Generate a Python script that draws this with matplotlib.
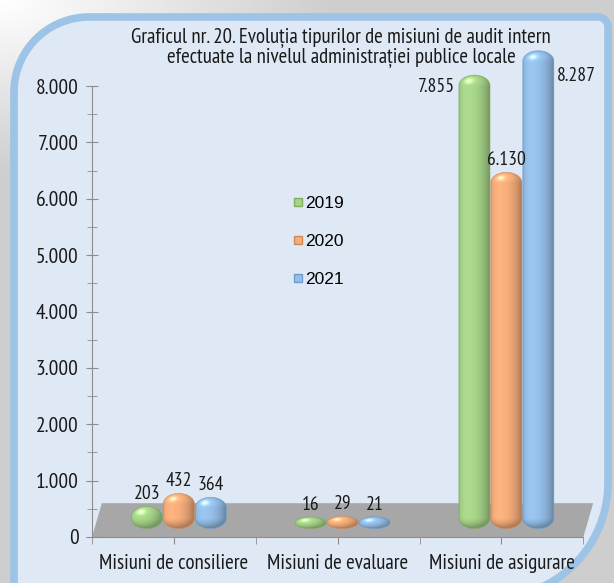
import numpy as np
import matplotlib
matplotlib.use('Agg')
import matplotlib.pyplot as plt
from matplotlib import font_manager as fm
from matplotlib.patches import Polygon, PathPatch
from matplotlib.path import Path
from matplotlib.lines import Line2D
from matplotlib.colors import to_rgb

# date
categories = ['Misiuni de consiliere', 'Misiuni de evaluare', 'Misiuni de asigurare']
years = ['2019', '2020', '2021']
v2019 = [203, 16, 7855]
v2020 = [432, 29, 6130]
v2021 = [364, 21, 8287]
y_ticks = [0, 1000, 2000, 3000, 4000, 5000, 6000, 7000, 8000]

series = [v2019, v2020, v2021]
colors = ['#a6d488', '#f5ad7a', '#95bfe8']
edge_colors = ['#7fae62', '#d08a58', '#6e9dcc']

fams = {f.name for f in fm.fontManager.ttflist}


def pick(*names):
    for n in names:
        if n in fams:
            return [n, 'DejaVu Sans']
    return ['DejaVu Sans']


NARROW = pick('Liberation Sans Narrow', 'Arial Narrow', 'PT Sans Narrow', 'Archivo Narrow',
              'Roboto Condensed', 'Asap Condensed')
REG = pick('Liberation Sans', 'Arimo', 'DejaVu Sans')


def fmt(v):
    return f'{v:,}'.replace(',', '.')


def pill_path(xc, w, b, h, c):
    t = np.linspace(0, np.pi, 40)
    tx = xc + w / 2 * np.cos(t)
    ty = b + h - c + c * np.sin(t)
    t2 = np.linspace(np.pi, 2 * np.pi, 40)
    bx = xc + w / 2 * np.cos(t2)
    by = b + c + c * np.sin(t2)
    xs = np.concatenate([tx, bx, tx[:1]])
    ys = np.concatenate([ty, by, ty[:1]])
    codes = [Path.MOVETO] + [Path.LINETO] * (len(xs) - 2) + [Path.CLOSEPOLY]
    return Path(np.column_stack([xs, ys]), codes)


def shade(color, h, c, nrows, ncols=48):
    u = np.linspace(-1, 1, ncols)
    v = np.linspace(0, h, nrows)
    U, V = np.meshgrid(u, v)
    ny = np.zeros_like(V)
    top = V > h - c
    ny[top] = (V[top] - (h - c)) / c
    bot = V < c
    ny[bot] = (V[bot] - c) / c
    nx = U
    nz = np.sqrt(np.clip(1 - nx ** 2 - ny ** 2, 0, 1))
    L = np.array([-0.4, 0.5, 0.8])
    L = L / np.linalg.norm(L)
    d = np.clip(nx * L[0] + ny * L[1] + nz * L[2], 0, 1)
    base = np.array(to_rgb(color))
    rgb = base[None, None, :] * (0.72 + 0.36 * d[..., None]) + 0.3 * d[..., None] ** 30
    return np.clip(rgb, 0, 1)


fig = plt.figure(figsize=(6.14, 5.83), dpi=100)

# fundal
bg = fig.add_axes([0, 0, 1, 1], zorder=-10)
bg.set_xlim(0, 614)
bg.set_ylim(583, 0)
bg.axis('off')
gx, gy = np.meshgrid(np.arange(614), np.arange(583))
g = 1 - 0.19 * np.clip(np.sqrt((gx / 330.0) ** 2 + (gy / 170.0) ** 2), 0, 1)
bg.imshow(np.dstack([g, g, g]), extent=(0, 614, 583, 0), aspect='auto')


def arc(cx, cy, r, a0, a1):
    a = np.radians(np.linspace(a0, a1, 30))
    return list(zip(cx + r * np.cos(a), cy + r * np.sin(a)))


x0, x1, y0, y1 = 14, 608, 17, 598
r_tl, r_tr, r_br = 75, 10, 115
pts = [(x0 + r_tl, y0), (x1 - r_tr, y0)]
pts += arc(x1 - r_tr, y0 + r_tr, r_tr, -90, 0)
pts += [(x1, y1 - r_br)]
pts += arc(x1 - r_br, y1 - r_br, r_br, 0, 90)
pts += [(x0, y1), (x0, y0 + r_tl)]
pts += arc(x0 + r_tl, y0 + r_tl, r_tl, 180, 270)
panel = Polygon(pts, closed=True, facecolor='#dfe9f5', edgecolor='#9dc3e6', lw=5.5)
bg.add_patch(panel)

# grafic
ax = fig.add_axes([92 / 614, 1 - 537 / 583, (603 - 92) / 614, (537 - 41) / 583])
ax.patch.set_alpha(0)

floor = Polygon([(-0.5, 0), (2.5, 0), (2.56, 600), (-0.44, 600)], closed=True,
                facecolor='#a7a7a7', edgecolor='none', zorder=1)
ax.add_patch(floor)

width = 0.19
offsets = [-0.165, 0.03, 0.225]
base = 150
label_style = {(2, 0): ('right', -12), (2, 2): ('left', -25)}

for j, vals in enumerate(series):
    for i, v in enumerate(vals):
        xc = i + offsets[j]
        h = v + 190
        c = min(185, h / 2)
        path = pill_path(xc, width, base, h, c)
        patch = PathPatch(path, facecolor='none', edgecolor=edge_colors[j], lw=0.4, zorder=4)
        ax.add_patch(patch)
        nrows = int(max(40, h / 15))
        im = ax.imshow(shade(colors[j], h, c, nrows), origin='lower',
                       extent=(xc - width / 2, xc + width / 2, base, base + h),
                       aspect='auto', interpolation='bilinear', zorder=3)
        im.set_clip_path(patch)
        top = base + h
        if (i, j) in label_style:
            ha, dy = label_style[(i, j)]
            xl = xc - width / 2 if ha == 'right' else xc + width / 2
            dx = -4 if ha == 'right' else 3
            ax.annotate(fmt(v), (xl, top), xytext=(dx, dy), textcoords='offset pixels',
                        ha=ha, va='center', fontsize=14, family=NARROW, color='#1a1a1a', zorder=6)
        else:
            ax.annotate(fmt(v), (xc, top), xytext=(0, 3), textcoords='offset pixels',
                        ha='center', va='bottom', fontsize=14, family=NARROW, color='#1a1a1a', zorder=6)

ax.set_xlim(-0.5, 2.62)
ax.set_ylim(0, 8800)

for s in ['top', 'right']:
    ax.spines[s].set_visible(False)
ax.spines['left'].set_bounds(0, 8000)
ax.spines['bottom'].set_bounds(-0.5, 2.5)
ax.spines['left'].set_color('#8c8c8c')
ax.spines['bottom'].set_color('#8c8c8c')

ax.set_yticks(y_ticks)
ax.set_yticklabels([fmt(t) for t in y_ticks], family=NARROW, fontsize=15.5, color='#1a1a1a')
ax.set_yticks(np.arange(500, 8000, 1000), minor=True)
ax.tick_params(axis='y', which='major', direction='inout', length=9, color='#8c8c8c', pad=5)
ax.tick_params(axis='y', which='minor', direction='inout', length=7, color='#8c8c8c')

ax.set_xticks([0, 1, 2])
ax.set_xticklabels(categories, family=NARROW, fontsize=15, color='#1a1a1a')
ax.set_xticks([-0.5, 0.5, 1.5, 2.5], minor=True)
ax.tick_params(axis='x', which='both', direction='out', length=5, color='#8c8c8c', pad=7)

# legenda
handles = [Line2D([], [], marker='s', ls='none', markersize=5.5,
                  markerfacecolor=colors[j], markeredgecolor=edge_colors[j]) for j in range(3)]
fig.legend(handles, years, loc='upper left', bbox_to_anchor=(292 / 614, 1 - 196 / 583),
           frameon=False, prop={'family': REG, 'size': 12.5}, handlelength=0.7,
           handletextpad=0.05, labelspacing=1.3, borderpad=0, borderaxespad=0)

fig.text(341 / 614, 1 - 48 / 583,
         'Graficul nr. 20. Evoluția tipurilor de misiuni de audit intern\n'
         'efectuate la nivelul administrației publice locale',
         ha='center', va='center', fontsize=15, family=NARROW, color='#1a1a1a',
         linespacing=0.95)

fig.savefig('out.png', dpi=100)
